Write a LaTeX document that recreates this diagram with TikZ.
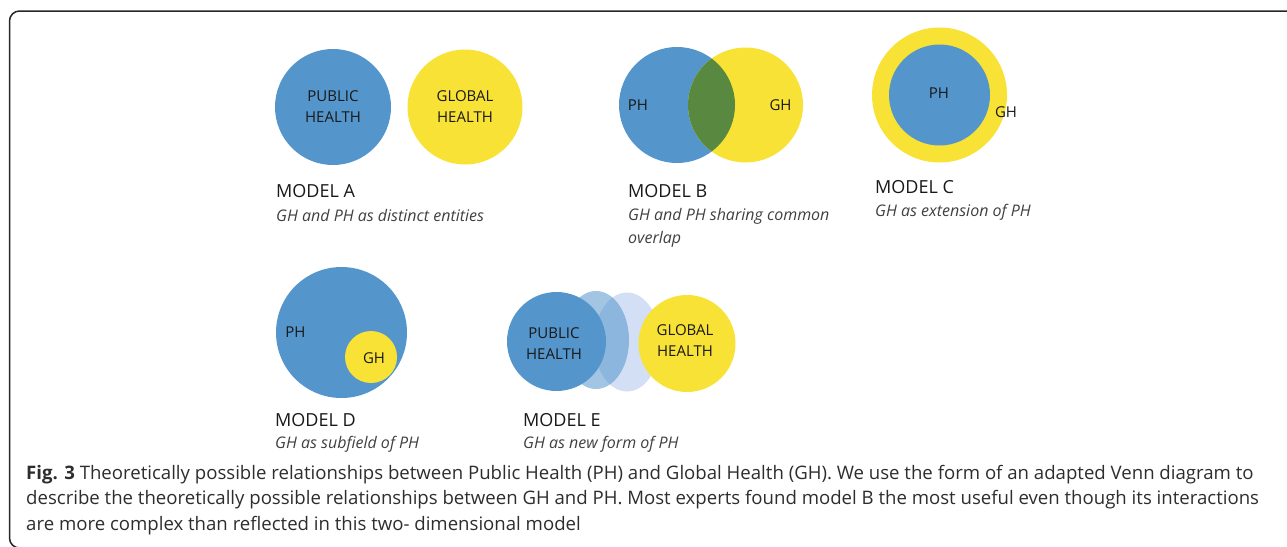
\documentclass[tikz,border=0pt]{standalone}
\usepackage{fontspec}
\setmainfont{Open Sans}
\usetikzlibrary{positioning}
\definecolor{phblue}{RGB}{84,150,204}
\definecolor{ghyellow}{RGB}{248,226,54}
\definecolor{ovgreen}{RGB}{89,137,64}
\definecolor{elight}{RGB}{211,223,244}
\definecolor{captext}{RGB}{45,45,45}

\begin{document}
\begin{tikzpicture}[x=1pt,y=-1pt,
    disc/.style={circle, inner sep=0pt, minimum size=#1},
    lbl/.style={inner sep=0pt, align=center, text=black!90, font=\fontsize{15}{21}\selectfont},
    title/.style={anchor=base west, inner sep=0pt, text=black!90, font=\fontsize{18}{22}\selectfont},
    sub/.style={anchor=base west, inner sep=0pt, text=black!75, font=\fontsize{16}{23}\selectfont\itshape},
    capline/.style={anchor=base west, inner sep=0pt, text=captext, font=\fontsize{18.6}{25.5}\selectfont}]
    \useasboundingbox (0,0) rectangle (1287,546);
    \draw[line width=1.5pt, black!85, rounded corners=10pt] (1300,11) -- (9.5,11) -- (9.5,548) -- (1300,548);

    % Model A
    \node[disc=116pt, fill=phblue, lbl] (a-ph) at (333,107) {PUBLIC\\HEALTH};
    \node[disc=115pt, fill=ghyellow, lbl] (a-gh) at (465,107) {GLOBAL\\HEALTH};
    \node[title] (a-title) at (276,197) {MODEL A};
    \node[sub] (a-sub) at (276,221) {GH and PH as distinct entities};

    % Model B
    \node[disc=116pt, fill=phblue] (b-ph) at (677,105) {};
    \node[disc=115pt, fill=ghyellow] (b-gh) at (745.5,105) {};
    \begin{scope}
      \clip (b-ph.center) circle[radius=58pt];
      \fill[ovgreen] (b-gh.center) circle[radius=57.5pt];
    \end{scope}
    \node[lbl] (b-ph-lbl) at (638,105) {PH};
    \node[lbl] (b-gh-lbl) at (780.5,105) {GH};
    \node[title] (b-title) at (628,197) {MODEL B};
    \node[sub] (b-sub) at (628,220) {GH and PH sharing common};
    \node[sub] (b-sub2) at (628,243) {overlap};

    % Model C
    \node[disc=135pt, fill=ghyellow] (c-gh) at (939.5,95) {};
    \node[disc=101pt, fill=phblue, lbl] (c-ph) at (939.5,95) {};
    \node[lbl] (c-ph-lbl) at (939,93.5) {PH};
    \node[lbl] (c-gh-lbl) at (1006,112) {GH};
    \node[title] (c-title) at (875,193) {MODEL C};
    \node[sub] (c-sub) at (875,216) {GH as extension of PH};

    % Model D
    \node[disc=131pt, fill=phblue] (d-ph) at (341.5,332.5) {};
    \node[disc=52pt, fill=ghyellow] (d-gh) at (371,357) {};
    \node[lbl] (d-ph-lbl) at (295.5,332) {PH};
    \node[lbl] (d-gh-lbl) at (374,358) {GH};
    \node[title] (d-title) at (275,426) {MODEL D};
    \node[sub] (d-sub) at (275,448) {GH as subfield of PH};

    % Model E
    \fill[elight] (627,342) ellipse[x radius=33pt, y radius=49.5pt];
    \fill[phblue, fill opacity=0.55] (596,340) ellipse[x radius=33pt, y radius=49pt];
    \node[disc=99pt, fill=phblue] (e-ph) at (556.5,341.5) {};
    \node[disc=97pt, fill=ghyellow] (e-gh) at (687,343.5) {};
    \node[lbl] (e-ph-lbl) at (554,343.5) {PUBLIC\\HEALTH};
    \node[lbl] (e-gh-lbl) at (685,340.5) {GLOBAL\\HEALTH};
    \node[title] (e-title) at (523,426) {MODEL E};
    \node[sub] (e-sub) at (523,448) {GH as new form of PH};

    % Caption
    \node[capline] (cap-1) at (26,479) {\textbf{Fig. 3} Theoretically possible relationships between Public Health (PH) and Global Health (GH). We use the form of an adapted Venn diagram to};
    \node[capline] (cap-2) at (26,504.5) {describe the theoretically possible relationships between GH and PH. Most experts found model B the most useful even though its interactions};
    \node[capline] (cap-3) at (26,530) {are more complex than reflected in this two- dimensional model};
\end{tikzpicture}
\end{document}
